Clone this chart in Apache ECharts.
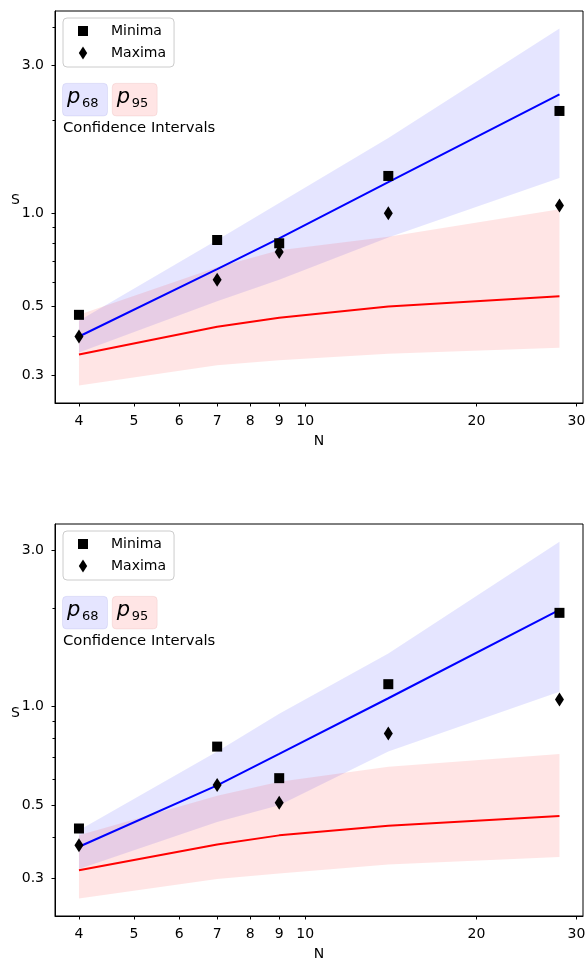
<!DOCTYPE html>
<html>
<head>
<meta charset="utf-8">
<script src="https://cdn.jsdelivr.net/npm/echarts@6/dist/echarts.min.js"></script>
<style>
html, body { margin: 0; padding: 0; background: #fff; }
#chart { width: 585px; height: 958px; }
</style>
</head>
<body>
<div id="chart"></div>
<script>
var chart = echarts.init(document.getElementById('chart'));

var FONT = '"DejaVu Sans", sans-serif';

// N values and tick labels
var nValues = [4, 7, 9, 14, 28];
var xTicks = [4, 5, 6, 7, 8, 9, 10, 20, 30];
var yTicks = [0.3, 0.5, 1.0, 3.0];
var yMinorTicks = [0.4, 0.6, 0.7, 0.8, 0.9, 2, 4];

// top panel
var minimaTop = [0.47, 0.82, 0.80, 1.32, 2.14];
var maximaTop = [0.40, 0.61, 0.75, 1.00, 1.06];
var p68MidTop = [0.40, 0.66, 0.83, 1.26, 2.42];
var p68LowTop = [0.355, 0.52, 0.61, 0.835, 1.30];
var p68HighTop = [0.45, 0.82, 1.08, 1.75, 3.95];
var p95MidTop = [0.35, 0.43, 0.46, 0.50, 0.54];
var p95LowTop = [0.278, 0.323, 0.335, 0.352, 0.368];
var p95HighTop = [0.47, 0.67, 0.76, 0.84, 1.03];

// bottom panel
var minimaBottom = [0.425, 0.755, 0.605, 1.17, 1.93];
var maximaBottom = [0.378, 0.577, 0.509, 0.828, 1.05];
var p68MidBottom = [0.374, 0.575, 0.717, 1.06, 1.97];
var p68LowBottom = [0.32, 0.445, 0.50, 0.73, 1.11];
var p68HighBottom = [0.42, 0.73, 0.95, 1.45, 3.18];
var p95MidBottom = [0.317, 0.38, 0.405, 0.433, 0.464];
var p95LowBottom = [0.26, 0.298, 0.31, 0.33, 0.348];
var p95HighBottom = [0.405, 0.535, 0.59, 0.655, 0.717];

var yRanges = [[0.244, 4.5], [0.23, 3.6]];

function pairs(xs, ys) {
    return xs.map(function (x, i) { return [x, ys[i]]; });
}

// shaded band between low and high, drawn once as one polygon
function band(g, low, high, color) {
    return {
        type: 'custom',
        xAxisIndex: g, yAxisIndex: g * 2,
        silent: true, z: 1,
        data: nValues.map(function (x, i) { return [x, low[i], high[i]]; }),
        renderItem: function (params, api) {
            if (params.dataIndex !== 0) return;
            var pts = [];
            for (var i = 0; i < nValues.length; i++) pts.push(api.coord([nValues[i], high[i]]));
            for (var j = nValues.length - 1; j >= 0; j--) pts.push(api.coord([nValues[j], low[j]]));
            return { type: 'polygon', shape: { points: pts }, style: { fill: color } };
        }
    };
}

function line(g, ys, color) {
    return {
        type: 'line', xAxisIndex: g, yAxisIndex: g * 2,
        data: pairs(nValues, ys), symbol: 'none', z: 3,
        lineStyle: { color: color, width: 2 }
    };
}

function points(g, name, ys, symbol, size) {
    return {
        type: 'scatter', name: name, xAxisIndex: g, yAxisIndex: g * 2,
        data: pairs(nValues, ys), symbol: symbol, symbolSize: size, z: 4,
        itemStyle: { color: '#000', opacity: 1 }
    };
}

function xAxis(g) {
    return {
        type: 'log', gridIndex: g, min: 3.63, max: 30.8,
        name: 'N', nameLocation: 'middle', nameGap: 31,
        nameTextStyle: { color: '#000', fontSize: 14, fontFamily: FONT },
        axisLine: { show: true, lineStyle: { color: '#000', width: 1 } },
        axisTick: { show: true, length: 3.5, customValues: xTicks, lineStyle: { color: '#000' } },
        axisLabel: {
            customValues: xTicks, margin: 11, color: '#000', fontSize: 14, fontFamily: FONT,
            formatter: function (v) { return String(Math.round(v)); }
        },
        splitLine: { show: false }
    };
}

function yAxes(g) {
    var r = yRanges[g];
    return [{
        type: 'log', gridIndex: g, position: 'left', min: r[0], max: r[1],
        name: 'S', nameLocation: 'middle', nameGap: 35, nameRotate: 0, nameMoveOverlap: false,
        nameTextStyle: { color: '#000', fontSize: 14, fontFamily: FONT, verticalAlign: 'bottom', align: 'right' },
        axisLine: { show: true, lineStyle: { color: '#000', width: 1 } },
        axisTick: { show: true, length: 3.5, customValues: yTicks, lineStyle: { color: '#000' } },
        axisLabel: {
            customValues: yTicks, margin: 11, color: '#000', fontSize: 14, fontFamily: FONT,
            formatter: function (v) { return Number(v).toFixed(1); }
        },
        splitLine: { show: false }
    }, {
        // minor ticks only
        type: 'log', gridIndex: g, position: 'left', min: r[0], max: r[1],
        axisLine: { show: false },
        axisTick: { show: true, length: 2.5, customValues: yMinorTicks, lineStyle: { color: '#000' } },
        axisLabel: { show: false },
        splitLine: { show: false }
    }];
}

var SQUARE = 'path://M0 0H10V10H0Z';
var DIAMOND = 'path://M4.5 0L9 7L4.5 14L0 7Z';

function legend(dy) {
    return {
        data: [{ name: 'Minima', icon: SQUARE }, { name: 'Maxima', icon: DIAMOND }],
        orient: 'vertical', left: 63, top: 18 + dy,
        itemWidth: 10, itemHeight: 13, itemGap: 8,
        padding: [6, 8, 7, 15],
        backgroundColor: 'rgba(255,255,255,0.8)',
        borderColor: '#cccccc', borderWidth: 1, borderRadius: 4,
        selectedMode: false,
        formatter: '{t|{name}}',
        textStyle: {
            fontSize: 14, fontFamily: FONT, color: '#000',
            rich: { t: { padding: [0, 0, 0, 18], fontSize: 14, fontFamily: FONT, color: '#000' } }
        }
    };
}

// p68 / p95 boxes with caption
function ciBoxes(dy) {
    var els = [];
    var boxes = [
        { x: 62.5, sub: '68', fill: 'rgba(0,0,255,0.1)', stroke: 'rgba(0,0,160,0.07)' },
        { x: 112.2, sub: '95', fill: 'rgba(255,0,0,0.1)', stroke: 'rgba(160,0,0,0.07)' }
    ];
    boxes.forEach(function (b) {
        els.push({
            type: 'rect', shape: { x: b.x, y: 83.3 + dy, width: 45, height: 32.7, r: 4 },
            style: { fill: b.fill, stroke: b.stroke, lineWidth: 1 }
        });
        els.push({
            type: 'text', x: b.x + 4.5, y: 97.5 + dy,
            style: { text: 'p', fontSize: 21, fontStyle: 'italic', fontFamily: FONT, fill: '#000', verticalAlign: 'middle' }
        });
        els.push({
            type: 'text', x: b.x + 19.5, y: 104 + dy,
            style: { text: b.sub, fontSize: 13, fontFamily: FONT, fill: '#000', verticalAlign: 'middle' }
        });
    });
    els.push({
        type: 'text', x: 63, y: 127.7 + dy,
        style: { text: 'Confidence Intervals', fontSize: 14.8, fontFamily: FONT, fill: '#000', verticalAlign: 'middle' }
    });
    return els;
}

var gridBase = {
    left: 55, right: 2, height: 392, show: true, borderColor: '#000', borderWidth: 1,
    backgroundColor: 'transparent', outerBoundsMode: 'none', containLabel: false
};

var option = {
    backgroundColor: '#fff',
    animation: false,
    textStyle: { fontFamily: FONT },
    grid: [
        Object.assign({ top: 11 }, gridBase),
        Object.assign({ top: 524 }, gridBase)
    ],
    xAxis: [xAxis(0), xAxis(1)],
    yAxis: yAxes(0).concat(yAxes(1)),
    legend: [legend(0), legend(513)],
    graphic: ciBoxes(0).concat(ciBoxes(513)),
    series: [
        band(0, p68LowTop, p68HighTop, 'rgba(0,0,255,0.1)'),
        band(0, p95LowTop, p95HighTop, 'rgba(255,0,0,0.1)'),
        line(0, p68MidTop, '#0000ff'),
        line(0, p95MidTop, '#ff0000'),
        points(0, 'Minima', minimaTop, SQUARE, 10),
        points(0, 'Maxima', maximaTop, DIAMOND, [9, 14]),

        band(1, p68LowBottom, p68HighBottom, 'rgba(0,0,255,0.1)'),
        band(1, p95LowBottom, p95HighBottom, 'rgba(255,0,0,0.1)'),
        line(1, p68MidBottom, '#0000ff'),
        line(1, p95MidBottom, '#ff0000'),
        points(1, 'Minima', minimaBottom, SQUARE, 10),
        points(1, 'Maxima', maximaBottom, DIAMOND, [9, 14])
    ]
};

chart.setOption(option);
</script>
</body>
</html>
